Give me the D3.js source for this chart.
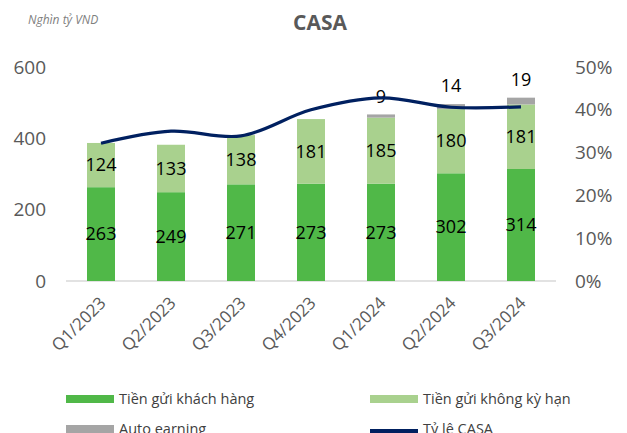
<!DOCTYPE html>
<html>
<head>
<meta charset="utf-8">
<script src="https://cdn.jsdelivr.net/npm/d3@7"></script>
<style>
  body { margin: 0; background: #fff; }
  text { font-family: "Open Sans", "Noto Sans", sans-serif; }
</style>
</head>
<body>
<div id="chart"></div>
<script>
// Datos del gráfico
var quarters = ["Q1/2023", "Q2/2023", "Q3/2023", "Q4/2023", "Q1/2024", "Q2/2024", "Q3/2024"];
var tienGuiKhachHang = [263, 249, 271, 273, 273, 302, 314];
var tienGuiKhongKyHan = [124, 133, 138, 181, 185, 180, 181];
var autoEarning = [0, 0, 0, 0, 9, 14, 19];
var tyLeCasa = [0.322, 0.350, 0.339, 0.400, 0.428, 0.406, 0.407];
var leftTicks = [0, 200, 400, 600];
var rightTicks = [0, 0.1, 0.2, 0.3, 0.4, 0.5];

var width = 627, height = 433;
var margin = {left: 66, right: 71, top: 67, bottom: 152};

var svg = d3.select("#chart").append("svg")
  .attr("width", width).attr("height", height);

var x = d3.scaleBand().domain(quarters)
  .range([margin.left, width - margin.right]).paddingInner(0.6).paddingOuter(0.3);
var y = d3.scaleLinear().domain([0, 600]).range([height - margin.bottom, margin.top]);
var y2 = d3.scaleLinear().domain([0, 0.5]).range([height - margin.bottom, margin.top]);

// titulos
svg.append("text").attr("x", 320).attr("y", 30).attr("text-anchor", "middle")
  .attr("fill", "#595959").style("font-size", "21px").style("font-weight", "bold").text("CASA");
svg.append("text").attr("x", 28).attr("y", 24)
  .attr("fill", "#7f7f7f").style("font-size", "12px").style("font-style", "italic").text("Nghìn tỷ VND");

// ejes
var yAxis = svg.append("g").attr("transform", "translate(46,0)")
  .call(d3.axisLeft(y).tickValues(leftTicks).tickSize(0).tickPadding(0));
var y2Axis = svg.append("g").attr("transform", "translate(575,0)")
  .call(d3.axisRight(y2).tickValues(rightTicks).tickSize(0).tickPadding(0).tickFormat(d3.format(".0%")));
[yAxis, y2Axis].forEach(function (a) {
  a.select(".domain").remove();
  a.selectAll("text").attr("fill", "#595959").style("font-size", "19px")
    .style("font-family", "'Open Sans', sans-serif");
});

svg.append("line")
  .attr("x1", margin.left).attr("x2", width - margin.right)
  .attr("y1", y(0)).attr("y2", y(0))
  .attr("stroke", "#d9d9d9").attr("stroke-width", 1.5);

// barras apiladas
var rows = quarters.map(function (q, i) {
  return {q: q, a: tienGuiKhachHang[i], b: tienGuiKhongKyHan[i], c: autoEarning[i]};
});
var keys = ["a", "b", "c"];
var colors = {a: "#50b848", b: "#a9d18e", c: "#a5a5a5"};
var stacked = d3.stack().keys(keys)(rows);

var g = svg.append("g");
stacked.forEach(function (layer) {
  g.selectAll(null).data(layer).enter().append("rect")
    .attr("x", d => x(d.data.q))
    .attr("width", x.bandwidth())
    .attr("y", d => y(d[1]))
    .attr("height", d => y(d[0]) - y(d[1]))
    .attr("fill", colors[layer.key]);
});

// etiquetas
stacked.slice(0, 2).forEach(function (layer) {
  svg.selectAll(null).data(layer).enter().append("text")
    .attr("x", d => x(d.data.q) + x.bandwidth() / 2)
    .attr("y", d => (y(d[0]) + y(d[1])) / 2)
    .attr("dy", "0.35em").attr("text-anchor", "middle")
    .style("font-size", "18px").attr("fill", "#000")
    .text(d => d[1] - d[0]);
});
svg.selectAll(null).data(stacked[2].filter(d => d[1] > d[0])).enter().append("text")
  .attr("x", d => x(d.data.q) + x.bandwidth() / 2)
  .attr("y", d => y(d[1]) - 18)
  .attr("dy", "0.35em")
  .attr("text-anchor", "middle")
  .style("font-size", "18px").attr("fill", "#000")
  .text(d => d[1] - d[0]);

// linea de CASA (encima de las etiquetas)
var line = d3.line()
  .x((d, i) => x(quarters[i]) + x.bandwidth() / 2)
  .y(d => y2(d))
  .curve(d3.curveCatmullRom.alpha(0.5));
svg.append("path").datum(tyLeCasa).attr("d", line)
  .attr("fill", "none").attr("stroke", "#002060").attr("stroke-width", 3.2);

// etiquetas eje x
svg.selectAll(null).data(quarters).enter().append("text")
  .attr("transform", d => `translate(${x(d) + x.bandwidth() / 2 + 6},${y(0) + 23}) rotate(-45)`)
  .attr("text-anchor", "end").attr("fill", "#595959")
  .style("font-size", "17px").text(d => d);

// leyenda
var legend = [
  {name: "Tiền gửi khách hàng", color: colors.a, x: 66, y: 399, type: "rect"},
  {name: "Tiền gửi không kỳ hạn", color: colors.b, x: 370, y: 399, type: "rect"},
  {name: "Auto earning", color: colors.c, x: 66, y: 429, type: "rect"},
  {name: "Tỷ lệ CASA", color: "#002060", x: 370, y: 429, type: "line"}
];
var lg = svg.selectAll(null).data(legend).enter().append("g")
  .attr("transform", d => `translate(${d.x},${d.y})`);
lg.append("rect").attr("x", 0).attr("y", d => d.type == "line" ? 0 : -4)
  .attr("width", 48).attr("height", d => d.type == "line" ? 4 : 8)
  .attr("fill", d => d.color);
lg.append("text").attr("x", 53).attr("dy", "0.35em")
  .attr("fill", "#404040").style("font-size", "14.5px").text(d => d.name);
</script>
</body>
</html>
